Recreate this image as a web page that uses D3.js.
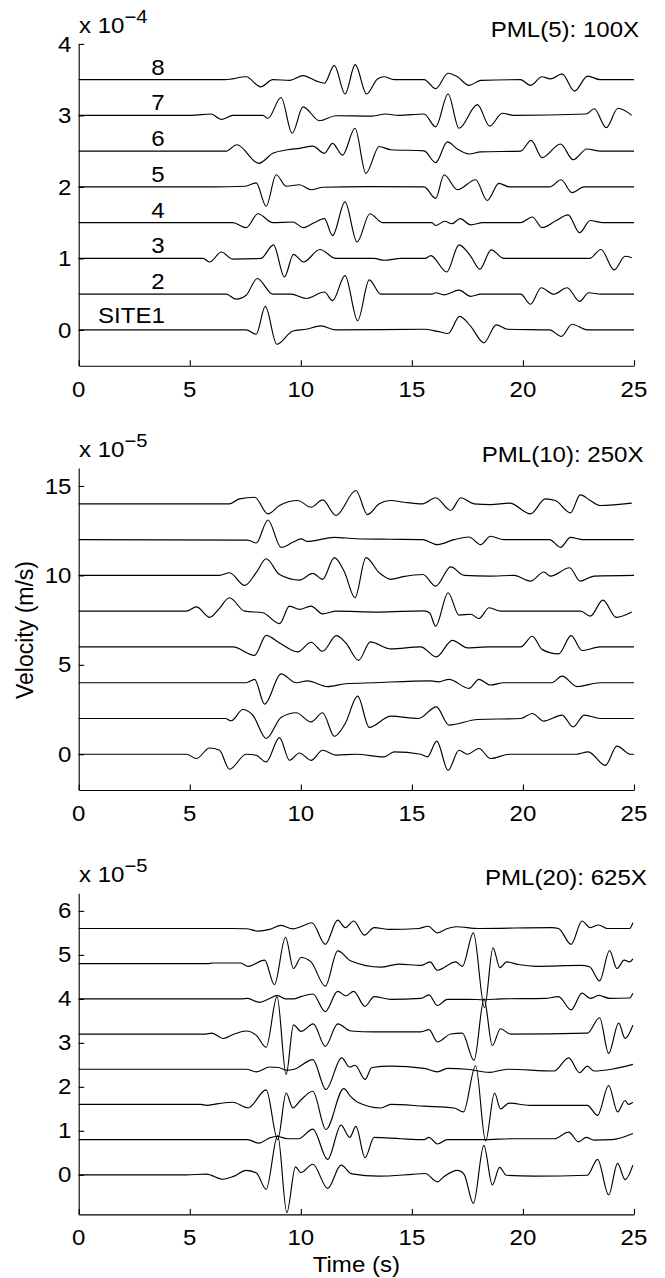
<!DOCTYPE html>
<html>
<head>
<meta charset="utf-8">
<script src="https://cdn.jsdelivr.net/npm/d3@7"></script>
<style>
  html, body { margin: 0; padding: 0; background: #fff; }
  svg { display: block; }
  text { font-family: "Liberation Sans", Arial, Helvetica, sans-serif; fill: #000; }
</style>
</head>
<body>
<svg id="chart" width="665" height="1278"></svg>
<script>
// ---- shared axis data ----
const timeTicks = [0, 5, 10, 15, 20, 25];
const timeDomain = [0, 25];

// ---- panel 1: PML(5), units of 1e-4 m/s ----
const pml5Title = "PML(5): 100X";
const pml5Exponent = "\u22124";
const pml5Ticks = [0, 1, 2, 3, 4];
const pml5Domain = [-0.5, 4];
const pml5Offsets = [0, 0.5, 1.0, 1.5, 2.0, 2.5, 3.0, 3.5];
const pml5Labels = ["SITE1", "2", "3", "4", "5", "6", "7", "8"];
// [time (s), velocity relative to the trace offset]
const pml5Traces = [
  [[0,0],[7.54,0],[7.99,-0.06],[8.4,0.33],[8.92,-0.2],[9.64,-0.015],[10.24,0.01],[10.91,0.056],[11.58,0],[15.55,0.01],[16.15,-0.02],[16.63,-0.05],[17.15,0.19],[17.65,0.05],[18.24,-0.18],[18.8,0.07],[19.3,0.01],[21.2,0],[21.73,-0.09],[22.21,0.08],[22.9,0],[25,0]],
  [[0,0],[6.64,0],[7.09,-0.07],[7.54,-0.015],[8.04,0.22],[8.74,0],[9.56,0.0],[10.24,-0.06],[11.06,0.03],[11.43,-0.09],[11.99,0.26],[12.56,-0.37],[13.08,0.2],[13.6,0],[15.9,0],[16.07,0.02],[16.45,-0.01],[17.12,0.056],[17.65,-0.03],[18.1,0],[19.9,0],[20.34,-0.14],[20.82,0.09],[21.39,0],[21.99,0.09],[22.55,-0.1],[22.96,0.02],[23.5,0],[25,0]],
  [[0,0],[5.6,0],[5.9,-0.05],[6.42,0.09],[6.94,-0.01],[8.2,0.0],[8.77,0.19],[9.26,-0.26],[9.67,0.056],[10.12,-0.05],[10.86,0.125],[11.58,0],[13.3,0],[13.75,-0.025],[14.5,0],[15.6,0],[15.85,0.04],[16.57,-0.19],[17.12,0.19],[17.65,0.03],[18.06,-0.15],[18.57,0.12],[19.14,0],[23.0,0],[23.51,0.125],[24.11,-0.16],[24.6,0.03],[24.9,0.01]],
  [[0,0],[6.94,0],[7.54,-0.07],[8.07,0.125],[8.74,0.0],[9.64,0.01],[10.12,-0.07],[10.6,0.0],[11.06,0.056],[11.43,-0.18],[11.99,0.29],[12.53,-0.27],[13.11,0.125],[13.68,0],[15.9,0],[16.07,-0.04],[16.48,0.02],[16.8,-0.015],[17.17,0.056],[17.65,-0.03],[18.2,0],[19.9,0],[20.42,0.08],[20.86,-0.07],[21.5,0.03],[22.03,0.11],[22.55,-0.14],[23.03,0.03],[23.6,0],[25,0]],
  [[0,0],[6.0,0],[7.5,0.01],[7.99,0.056],[8.44,-0.27],[8.89,0.17],[9.34,0.01],[9.94,0.03],[10.46,-0.04],[11.0,-0.005],[13.0,0.005],[15.55,0],[16.07,-0.16],[16.45,0.17],[17.05,-0.04],[17.87,0.1],[18.39,-0.19],[18.92,0.05],[19.4,0],[21.2,0],[21.72,0.1],[22.21,-0.08],[22.75,0],[25,0]],
  [[0,0],[6.64,0],[7.12,0.09],[8.11,-0.17],[8.74,-0.03],[9.4,0.02],[9.94,0.04],[10.54,0.07],[11.06,-0.03],[11.43,0.11],[11.88,-0.056],[12.44,0.32],[12.93,-0.31],[13.53,0.065],[14.05,0.02],[15.55,0.005],[16.07,-0.16],[16.6,0.13],[17.05,0.03],[17.57,-0.04],[18.1,-0.01],[19.9,0],[20.37,0.15],[20.86,-0.09],[21.69,0.1],[22.26,-0.12],[22.88,0.03],[23.5,0],[25,0]],
  [[0,0],[5.07,0],[5.97,0.02],[6.42,-0.056],[6.94,0],[8.29,0],[8.52,-0.04],[9.11,0.25],[9.61,-0.25],[10.1,0.12],[10.84,-0.074],[11.58,-0.005],[13.2,-0.01],[13.83,0.02],[14.4,0],[15.55,0.02],[16.07,-0.16],[16.63,0.3],[17.12,-0.18],[17.95,0.15],[18.5,-0.15],[19.07,0.03],[19.6,0],[22.85,0.02],[23.21,0.093],[23.75,-0.17],[24.28,0.1],[24.9,0]],
  [[0,0],[6.6,0],[7.54,0.04],[8.19,-0.1],[8.74,0.0],[9.5,-0.01],[10.1,0.056],[10.7,-0.02],[11.06,-0.05],[11.51,0.2],[11.99,-0.2],[12.45,0.21],[12.96,-0.2],[13.45,0.01],[13.75,0.04],[14.2,0],[15.55,0],[16.07,-0.125],[16.63,0.09],[17.05,0.04],[17.57,-0.08],[18.1,-0.01],[19.89,0],[20.34,-0.08],[20.86,0.04],[21.24,0.01],[21.76,0.08],[22.32,-0.16],[22.91,0.05],[23.48,0],[25,0]]
];

// ---- panel 2: PML(10), units of 1e-5 m/s ----
const pml10Title = "PML(10): 250X";
const pml10Exponent = "\u22125";
const pml10Ticks = [0, 5, 10, 15];
const pml10Domain = [-2, 16];
const pml10Offsets = [0, 2, 4, 6, 8, 10, 12, 14];
const pml10Traces = [
  [[0,0],[4.85,0],[5.3,-0.24],[5.9,0.35],[6.34,0.22],[6.79,-0.84],[7.54,0],[7.99,-0.06],[8.44,-0.43],[9.04,0.93],[9.49,-0.34],[9.94,0.07],[10.46,-0.34],[10.98,0.22],[11.58,-0.05],[12.5,0],[13.75,-0.15],[14.2,0.13],[15.4,0],[15.7,-0.15],[16.12,0.73],[16.63,-0.9],[17.12,0.22],[17.5,0],[18.02,0.32],[18.54,-0.24],[19.4,0],[22.4,0],[22.94,0.13],[23.71,-0.62],[24.23,0.45],[24.85,0],[25,0]],
  [[0,0],[6.6,0],[6.87,-0.13],[7.39,0.5],[7.84,0.18],[8.44,-1.12],[9.11,0.06],[9.79,0.32],[10.46,-0.19],[10.98,0.32],[11.51,-1.0],[12.0,-0.28],[12.56,1.25],[13.08,-0.5],[14.05,0.13],[15.3,0],[16.1,0.65],[16.67,-0.37],[17.95,-0.06],[19.9,0],[20.42,0.28],[20.94,-0.15],[21.76,0.19],[22.26,-0.47],[22.76,0.19],[23.48,0],[25,0]],
  [[0,0],[7.54,0],[7.92,0.19],[8.37,-1.2],[9.11,0.49],[9.79,0],[10.3,0.1],[11.21,-0.22],[12.0,-0.06],[13.3,0],[15.85,0.1],[16.2,0.05],[16.67,0.19],[17.57,-0.32],[18.02,0.19],[18.54,-0.13],[19.14,0],[21.3,0],[21.76,0.37],[22.44,-0.22],[23.48,0],[25,0]],
  [[0,0],[6.94,0],[7.92,-0.47],[8.44,0.65],[9.04,0.22],[9.86,-0.28],[10.46,0.26],[10.98,-0.24],[11.6,0.63],[12.03,0.22],[12.6,-0.75],[13.13,0.28],[14.05,-0.11],[15.4,0],[16.1,-0.56],[16.82,0.37],[17.5,-0.05],[18.5,0],[19.9,0],[20.42,0.6],[20.87,-0.15],[21.61,-0.39],[22.17,0.63],[22.66,-0.2],[23.48,0],[25,0]],
  [[0,0],[4.85,0],[5.3,0.24],[5.9,-0.35],[6.3,0.1],[6.79,0.75],[7.47,0],[8.29,-0.09],[9.04,-0.7],[9.49,0.28],[9.94,0.1],[10.46,0.28],[10.98,-0.15],[11.6,0],[13.5,-0.05],[15.55,0.02],[15.8,-0.1],[16.07,-0.84],[16.63,1.03],[17.12,-0.22],[17.65,-0.17],[18.02,-0.41],[18.48,0.19],[19.0,0],[22.6,0],[23.03,-0.28],[23.6,0.62],[24.2,-0.35],[24.9,-0.05]],
  [[0,0],[6.34,0],[6.79,0.15],[7.47,-0.56],[7.99,0.15],[8.44,0.93],[9.04,0.05],[9.94,-0.26],[10.54,0.11],[10.98,-0.22],[11.51,0.99],[11.96,0.2],[12.44,-1.25],[12.93,0.99],[13.53,0.15],[14.05,-0.22],[14.6,-0.07],[15.5,0.05],[16.07,-0.6],[16.75,0.48],[17.35,0],[18.5,-0.04],[19.6,0],[20.34,-0.32],[20.94,0.19],[21.24,-0.04],[22.1,0.43],[22.58,-0.32],[23.2,-0.04],[25,0]],
  [[0,0],[7.6,-0.03],[7.99,-0.19],[8.52,1.1],[9.11,-0.43],[9.64,-0.15],[10.01,0.04],[10.3,-0.1],[11.5,0.13],[12.5,0.05],[14,0.02],[15.5,0],[16.15,-0.28],[16.9,0],[17.57,0.15],[18.1,-0.28],[18.54,0.19],[19.14,0],[21.2,0],[21.69,-0.43],[22.14,0.13],[22.7,0],[25,0]],
  [[0,0],[6.79,0],[7.24,0.28],[7.92,0.37],[8.52,-0.56],[9.04,-0.09],[9.86,0.19],[10.46,-0.19],[10.98,0.22],[11.58,-0.65],[12.48,0.75],[13.0,-0.6],[13.53,0],[14.05,0.19],[14.65,0.09],[15.48,0],[16.07,0.34],[16.75,-0.37],[17.2,0.34],[17.8,0],[18.54,-0.04],[19.4,0.04],[20.34,-0.56],[21.01,0.28],[21.46,0.19],[22.14,-0.5],[22.58,0.5],[23.03,0.19],[23.48,-0.09],[24.9,0.04]]
];

// ---- panel 3: PML(20), units of 1e-5 m/s ----
const pml20Title = "PML(20): 625X";
const pml20Exponent = "\u22125";
const pml20Ticks = [0, 1, 2, 3, 4, 5, 6];
const pml20Domain = [-0.9, 6.4];
const pml20Offsets = [0, 0.8, 1.6, 2.4, 3.2, 4.0, 4.8, 5.6];
const pml20Traces = [
  [[0,0],[4.85,0],[5.75,0.015],[6.5,-0.1],[7.0,-0.03],[7.54,0.1],[8.0,0.04],[8.44,-0.33],[8.96,0.9],[9.37,-0.86],[9.76,0.18],[10.0,0.05],[10.54,0.24],[11.21,-0.31],[11.81,0.22],[12.3,0.02],[13.5,-0.03],[15.0,0.01],[15.6,0.03],[16.15,-0.16],[16.45,-0.04],[17.05,0.1],[17.35,0.01],[17.77,-0.65],[18.24,0.67],[18.62,-0.23],[18.95,0.17],[19.25,-0.01],[20.5,-0.03],[22.9,-0.01],[23.36,0.35],[23.86,-0.46],[24.26,0.26],[24.6,-0.11],[24.95,0.22]],
  [[0,0],[7.6,0],[8.11,-0.08],[8.6,0.04],[8.96,0.07],[9.4,0.02],[9.9,0.02],[10.54,0.24],[11.21,-0.45],[11.81,0.33],[12.2,0.05],[12.48,0.3],[12.89,-0.41],[13.3,0.05],[14.5,0.02],[15.55,0],[15.77,0.05],[16.15,-0.1],[16.6,0],[18.3,0],[19.5,0.02],[21.4,0.02],[22.06,0.17],[22.5,-0.05],[22.85,0.05],[23.2,-0.01],[24.0,0],[24.95,0.14]],
  [[0,0],[5.5,0],[5.75,-0.02],[6.3,0.02],[6.94,0.05],[7.62,-0.08],[8.44,0.33],[8.96,-0.8],[9.34,0.26],[9.64,-0.08],[10.0,0.1],[10.54,0.3],[11.13,-0.57],[11.93,0.36],[12.26,0.17],[12.56,0.05],[13.6,-0.08],[14.05,0],[15.55,-0.04],[16.9,-0.08],[17.32,-0.17],[17.87,0.88],[18.32,-0.83],[18.72,0.26],[18.99,-0.1],[19.37,0.03],[20.3,-0.02],[22.9,-0.02],[23.36,-0.25],[23.86,0.43],[24.26,-0.17],[24.6,0.09],[24.75,0],[24.95,0.05]],
  [[0,0],[7.54,0],[8.0,-0.06],[8.6,0.05],[9.0,0.04],[9.34,-0.02],[9.7,0.0],[10.54,0.22],[11.13,-0.46],[11.84,0.26],[12.2,0.05],[12.44,0.09],[12.89,-0.23],[13.2,0.04],[14.05,0.07],[15.55,0.02],[16.15,-0.06],[16.6,0.02],[17.5,0.0],[18.5,-0.07],[19.3,0],[21.4,-0.04],[22.06,0.26],[22.55,-0.08],[22.9,0.07],[23.2,-0.04],[24.0,0],[24.95,0.11]],
  [[0,0],[5.7,0],[6.0,0.02],[6.5,-0.1],[7.0,0.0],[7.54,0.07],[8.0,-0.03],[8.44,-0.3],[8.93,0.85],[9.34,-0.92],[9.67,0.21],[10.01,0.06],[10.56,0.23],[11.1,-0.28],[11.66,0.23],[12.26,0.07],[13.3,0.05],[15.4,0.05],[15.77,0.1],[16.15,-0.18],[16.75,0],[17.27,0.02],[17.8,-0.6],[18.25,0.8],[18.62,-0.26],[18.99,0.12],[19.44,0],[22.9,0.02],[23.45,0.37],[23.86,-0.44],[24.31,0.25],[24.6,-0.1],[24.95,0.2]],
  [[0,0],[7.3,0],[7.6,0.01],[8.14,-0.08],[8.6,0.01],[8.93,0.08],[9.3,0.0],[9.67,0.0],[10.01,0.05],[10.54,0.11],[11.1,-0.29],[11.66,0.17],[12.03,0.07],[12.38,0.17],[12.89,-0.17],[13.3,0.05],[14.05,-0.01],[15.4,0.01],[15.77,0.09],[16.15,-0.15],[16.6,-0.01],[17.5,-0.01],[18.3,-0.02],[19.0,0],[21.0,0.01],[21.6,0.05],[22.17,-0.25],[22.66,0.13],[23.03,0.01],[23.41,0.08],[23.9,0.01],[24.8,0.02],[24.95,0.13]],
  [[0,0],[5.8,0],[6.05,0.015],[7.3,0.015],[7.62,-0.06],[8.37,0.08],[8.81,-0.48],[9.31,0.6],[9.67,-0.11],[10.01,0.14],[10.46,0.04],[11.1,-0.51],[11.66,0.29],[12.26,0.06],[13.6,-0.08],[14.4,-0.01],[15.4,-0.04],[15.82,0.04],[16.15,-0.15],[16.97,0.04],[17.27,-0.06],[17.77,0.7],[18.27,-1.0],[18.65,0.36],[18.96,-0.09],[19.26,0.04],[19.8,-0.02],[20.6,-0.06],[22.6,-0.04],[23.0,-0.07],[23.45,-0.39],[23.9,0.3],[24.23,-0.11],[24.56,0.08],[24.8,0.04],[24.95,0.11]],
  [[0,0],[6.2,0],[7.54,-0.005],[8.07,-0.06],[8.6,-0.02],[9.11,0.07],[9.64,-0.01],[10.0,0.04],[10.5,0.13],[11.1,-0.36],[11.66,0.19],[12.0,0.02],[12.38,0.17],[12.86,-0.15],[13.3,0.02],[14.0,-0.02],[15.3,0],[15.73,0.05],[16.15,-0.1],[16.6,0],[17.0,0.04],[18.0,0],[21.3,0.02],[21.6,0],[22.17,-0.36],[22.66,0.17],[23.03,0.02],[23.41,0.08],[23.8,0],[24.8,0],[24.95,0.13]]
];

// ---- drawing ----
const svg = d3.select("#chart");
const FONT = 21.5;     // tick and annotation text size
const SX = 1.12;       // horizontal glyph widening of the figure font

function txt(g, str, x, y, anchor, size) {
  return g.append("text")
    .attr("transform", `translate(${x},${y}) scale(${SX},1)`)
    .attr("text-anchor", anchor || "start")
    .style("font-size", (size || FONT) + "px")
    .text(str);
}

const x = d3.scaleLinear().domain(timeDomain).range([78.7, 634]);

function drawPanel(p) {
  const y = d3.scaleLinear().domain(p.domain).range([p.bottom, p.top]);
  const g = svg.append("g");

  // axes: left and bottom only, ticks pointing inward
  const yAxis = d3.axisLeft(y).tickValues(p.ticks).tickSize(-5.5).tickSizeOuter(0).tickFormat("");
  const xAxis = d3.axisBottom(x).tickValues(timeTicks).tickSize(-5.5).tickSizeOuter(0).tickFormat("");
  g.append("g").attr("transform", `translate(${x(0)},0)`).call(yAxis);
  g.append("g").attr("transform", `translate(0,${p.bottom})`).call(xAxis);
  g.selectAll(".domain, .tick line").attr("stroke", "#000").attr("stroke-width", 1.1);

  // tick labels
  p.ticks.forEach(v => txt(g, String(v), 71.5, y(v) + 7.6, "end"));
  timeTicks.forEach(t => txt(g, String(t), x(t), p.bottom + 31, "middle"));

  // exponent marker and title
  const e = g.append("text")
    .attr("transform", `translate(79,${p.expY}) scale(${SX},1)`)
    .style("font-size", FONT + "px");
  e.append("tspan").text("x 10");
  e.append("tspan").attr("dy", -10).style("font-size", "18px").text(p.exponent);
  txt(g, p.title, p.titleX, p.titleY, "start");

  // traces
  const line = d3.line()
    .x(d => x(d[0]))
    .y(d => y(d[1]))
    .curve(d3.curveMonotoneX);
  p.traces.forEach((tr, i) => {
    const off = p.offsets[i];
    g.append("path")
      .datum(tr.map(d => [d[0], off + d[1]]))
      .attr("d", line)
      .attr("fill", "none")
      .attr("stroke", "#000")
      .attr("stroke-width", 1.15)
      .attr("stroke-linejoin", "round");
  });

  if (p.labels) {
    p.labels.forEach((lab, i) => {
      const yy = y(p.offsets[i]);
      if (i === 0) txt(g, lab, 98, yy - 7.4, "start");
      else txt(g, lab, 158, yy - 5, "middle");
    });
  }
  return y;
}

drawPanel({
  domain: pml5Domain, top: 43.9, bottom: 365.7, ticks: pml5Ticks,
  offsets: pml5Offsets, traces: pml5Traces, labels: pml5Labels,
  title: pml5Title, titleX: 490.7, titleY: 37.3, exponent: pml5Exponent, expY: 33.3
});
drawPanel({
  domain: pml10Domain, top: 468.1, bottom: 790, ticks: pml10Ticks,
  offsets: pml10Offsets, traces: pml10Traces,
  title: pml10Title, titleX: 481.7, titleY: 461.7, exponent: pml10Exponent, expY: 456.7
});
drawPanel({
  domain: pml20Domain, top: 893.3, bottom: 1214.4, ticks: pml20Ticks,
  offsets: pml20Offsets, traces: pml20Traces,
  title: pml20Title, titleX: 485, titleY: 885, exponent: pml20Exponent, expY: 881.7
});

// shared axis titles
svg.append("text")
  .attr("transform", "translate(32.5,630) rotate(-90)")
  .attr("text-anchor", "middle")
  .style("font-size", "23px")
  .text("Velocity (m/s)");
txt(svg, "Time (s)", x(12.5), 1272, "middle");
</script>
</body>
</html>
